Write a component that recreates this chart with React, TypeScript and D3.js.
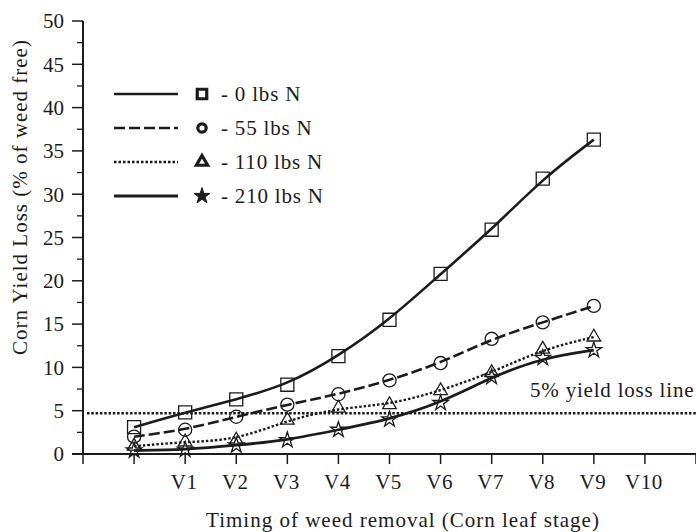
import React from 'react';
import * as d3 from 'd3';

// stage index of each removal timing (1 = earliest, unlabeled)
const stageIdx = [1, 2, 3, 4, 5, 6, 7, 8, 9, 10];
const stageTicks = ['V1', 'V2', 'V3', 'V4', 'V5', 'V6', 'V7', 'V8', 'V9', 'V10'];

const n0 = [3.1, 4.8, 6.3, 8.0, 11.3, 15.5, 20.8, 25.9, 31.8, 36.3];
const n55 = [2.0, 2.8, 4.3, 5.7, 6.9, 8.5, 10.5, 13.3, 15.2, 17.1];
const n110 = [0.9, 1.4, 1.6, 3.9, 5.3, 5.7, 7.3, 9.4, 12.1, 13.5];
const n210 = [0.4, 0.5, 1.0, 1.6, 2.8, 4.0, 5.9, 8.9, 11.1, 12.0];

const seriesNames = ['- 0 lbs N', '- 55 lbs N', '- 110 lbs N', '- 210 lbs N'];
const yTicks = [0, 5, 10, 15, 20, 25, 30, 35, 40, 45, 50];
const yieldLine = 4.7;

const W = 696;
const H = 532;
const INK = '#1c1c1c';
const FONT = '"Liberation Serif", "Times New Roman", serif';

const x = d3.scaleLinear().domain([0, 12]).range([83, 696]);
const y = d3.scaleLinear().domain([0, 50]).range([454, 21]);

type Style = { dash: string; width: number; symbol: d3.SymbolType; size: number };
const styles: Style[] = [
  { dash: '', width: 2.6, symbol: d3.symbolSquare, size: 170 },
  { dash: '11 4', width: 2.6, symbol: d3.symbolCircle, size: 135 },
  { dash: '2.5 2', width: 2.4, symbol: d3.symbolTriangle, size: 80 },
  { dash: '', width: 2.8, symbol: d3.symbolStar, size: 75 },
];

const App: React.FC = () => {
  const all = [n0, n55, n110, n210];
  const line = d3
    .line<number>()
    .x((_, i) => x(stageIdx[i]))
    .y((d) => y(d))
    .curve(d3.curveBasis);

  const minor = d3.range(0, 50.01, 2.5).filter((v) => v % 5 !== 0);

  return (
    <svg width={W} height={H} style={{ position: 'absolute', left: 0, top: 0, background: '#fff' }}>
      {/* 5% reference line */}
      <line
        x1={x(0) + 4}
        x2={W}
        y1={y(yieldLine)}
        y2={y(yieldLine)}
        stroke={INK}
        strokeWidth={2.6}
        strokeDasharray="2.5 1.8"
      />
      <text x={530} y={397} fontFamily={FONT} fontSize={21} letterSpacing={0.8} fill={INK}>
        5% yield loss line
      </text>

      {/* axes */}
      <line x1={x(0)} x2={x(0)} y1={y(50)} y2={y(0)} stroke={INK} strokeWidth={2} />
      <line x1={x(0) - 11} x2={W} y1={y(0)} y2={y(0)} stroke={INK} strokeWidth={2} />
      {yTicks.map((t) => (
        <g key={t}>
          <line x1={x(0) - 11} x2={x(0)} y1={y(t)} y2={y(t)} stroke={INK} strokeWidth={1.5} />
          <text
            x={x(0) - 19}
            y={y(t)}
            dy="0.35em"
            textAnchor="end"
            fontFamily={FONT}
            fontSize={21}
            fill={INK}
          >
            {t}
          </text>
        </g>
      ))}
      {minor.map((t) => (
        <line key={t} x1={x(0) - 6} x2={x(0)} y1={y(t)} y2={y(t)} stroke={INK} strokeWidth={1.3} />
      ))}
      {d3.range(0, 13).map((i) => (
        <line key={i} x1={x(i)} x2={x(i)} y1={y(0)} y2={y(0) + 10} stroke={INK} strokeWidth={1.5} />
      ))}
      {stageTicks.map((t, i) => (
        <text
          key={t}
          x={x(i + 2) - 1}
          y={489}
          textAnchor="middle"
          fontFamily={FONT}
          fontSize={21}
          letterSpacing={0.5}
          fill={INK}
        >
          {t}
        </text>
      ))}

      <text
        x={403}
        y={527}
        textAnchor="middle"
        fontFamily={FONT}
        fontSize={21}
        letterSpacing={1}
        fill={INK}
      >
        Timing of weed removal (Corn leaf stage)
      </text>
      <text
        transform={`translate(27,197) rotate(-90)`}
        textAnchor="middle"
        fontFamily={FONT}
        fontSize={21}
        letterSpacing={1}
        fill={INK}
      >
        Corn Yield Loss (% of weed free)
      </text>

      {/* series */}
      {all.map((vals, s) => (
        <g key={s}>
          <path
            d={line(vals) || ''}
            fill="none"
            stroke={INK}
            strokeWidth={styles[s].width}
            strokeDasharray={styles[s].dash}
          />
          {vals.map((v, i) => (
            <path
              key={i}
              transform={`translate(${x(stageIdx[i])},${y(v)})`}
              d={d3.symbol().type(styles[s].symbol).size(styles[s].size)() || ''}
              fill="none"
              stroke={INK}
              strokeWidth={1.3}
            />
          ))}
        </g>
      ))}

      {/* legend */}
      {seriesNames.map((name, s) => {
        const ly = 94 + s * 34;
        const st = styles[s];
        const filled = s === 3;
        return (
          <g key={name}>
            <line
              x1={114}
              x2={178}
              y1={ly}
              y2={ly}
              stroke={INK}
              strokeWidth={st.width}
              strokeDasharray={st.dash}
            />
            <path
              transform={`translate(202,${ly})`}
              d={
                d3
                  .symbol()
                  .type(st.symbol)
                  .size(s === 0 ? 90 : s === 1 ? 55 : s === 2 ? 55 : 80)() || ''
              }
              fill={filled ? INK : 'none'}
              stroke={INK}
              strokeWidth={s === 3 ? 1 : 3.2}
              strokeLinejoin="miter"
            />
            <text
              x={221}
              y={ly}
              dy="0.33em"
              fontFamily={FONT}
              fontSize={21}
              letterSpacing={0.8}
              fill={INK}
            >
              {name}
            </text>
          </g>
        );
      })}
    </svg>
  );
};

export default App;
